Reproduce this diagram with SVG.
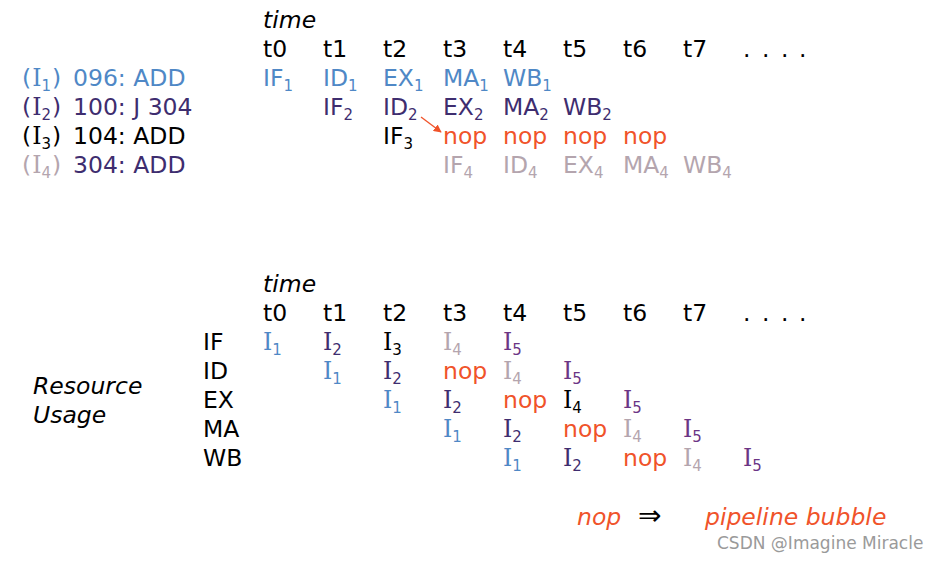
<svg xmlns="http://www.w3.org/2000/svg" width="940" height="563" viewBox="0 0 940 563">
<defs>
<style>
text{font-family:"DejaVu Sans","Liberation Sans",sans-serif;font-size:23.5px;}
.i{font-style:italic;}
.s{font-size:15px;}
.ser{font-family:"DejaVu Serif","Liberation Serif",serif;}
.k{fill:#000;}
.b{fill:#4f88c6;}
.p{fill:#3e2d6f;}
.g{fill:#b4a5ae;}
.n{fill:#f0532a;}
.v{fill:#6b3585;}
.w{fill:#9a9a9a;font-size:17px;}
</style>
<marker id="ah" viewBox="0 0 10 10" refX="9" refY="5" markerWidth="8" markerHeight="8" orient="auto" markerUnits="userSpaceOnUse">
<path d="M0,0 L10,5 L0,10 z" fill="#f0532a"/>
</marker>
</defs>
<rect width="940" height="563" fill="#fff"/>

<g id="top-header">
<text class="i k" x="263" y="28">time</text>
<text class="k" x="263" y="57">t0</text>
<text class="k" x="323" y="57">t1</text>
<text class="k" x="383" y="57">t2</text>
<text class="k" x="443" y="57">t3</text>
<text class="k" x="503" y="57">t4</text>
<text class="k" x="563" y="57">t5</text>
<text class="k" x="623" y="57">t6</text>
<text class="k" x="683" y="57">t7</text>
<text class="k"><tspan x="743" y="57">.</tspan><tspan x="762" y="57">.</tspan><tspan x="781" y="57">.</tspan><tspan x="799" y="57">.</tspan></text>
</g>

<g id="instr-labels">
<text class="b" x="22" y="86">(<tspan class="ser" dx="1">I</tspan><tspan class="s" dy="5">1</tspan><tspan dy="-5" dx="1">) </tspan><tspan x="73">096: ADD</tspan></text>
<text class="p" x="22" y="115">(<tspan class="ser" dx="1">I</tspan><tspan class="s" dy="5">2</tspan><tspan dy="-5" dx="1">) </tspan><tspan x="73">100: J 304</tspan></text>
<text class="k" x="22" y="144">(<tspan class="ser" dx="1">I</tspan><tspan class="s" dy="5">3</tspan><tspan dy="-5" dx="1">) </tspan><tspan x="73">104: ADD</tspan></text>
<text class="g" x="22" y="173">(<tspan class="ser" dx="1">I</tspan><tspan class="s" dy="5">4</tspan><tspan dy="-5" dx="1">)</tspan><tspan class="p" x="73">304: ADD</tspan></text>
</g>

<g id="row-i1">
<text class="b" x="263" y="86">IF<tspan class="s" dy="5">1</tspan></text>
<text class="b" x="323" y="86">ID<tspan class="s" dy="5">1</tspan></text>
<text class="b" x="383" y="86">EX<tspan class="s" dy="5">1</tspan></text>
<text class="b" x="443" y="86">MA<tspan class="s" dy="5">1</tspan></text>
<text class="b" x="503" y="86">WB<tspan class="s" dy="5">1</tspan></text>
</g>
<g id="row-i2">
<text class="p" x="323" y="115">IF<tspan class="s" dy="5">2</tspan></text>
<text class="p" x="383" y="115">ID<tspan class="s" dy="5">2</tspan></text>
<text class="p" x="443" y="115">EX<tspan class="s" dy="5">2</tspan></text>
<text class="p" x="503" y="115">MA<tspan class="s" dy="5">2</tspan></text>
<text class="p" x="563" y="115">WB<tspan class="s" dy="5">2</tspan></text>
</g>
<g id="row-i3">
<text class="k" x="383" y="144">IF<tspan class="s" dy="5">3</tspan></text>
<text class="n" x="443" y="144">nop</text>
<text class="n" x="503" y="144">nop</text>
<text class="n" x="563" y="144">nop</text>
<text class="n" x="623" y="144">nop</text>
</g>
<g id="row-i4">
<text class="g" x="443" y="173">IF<tspan class="s" dy="5">4</tspan></text>
<text class="g" x="503" y="173">ID<tspan class="s" dy="5">4</tspan></text>
<text class="g" x="563" y="173">EX<tspan class="s" dy="5">4</tspan></text>
<text class="g" x="623" y="173">MA<tspan class="s" dy="5">4</tspan></text>
<text class="g" x="683" y="173">WB<tspan class="s" dy="5">4</tspan></text>
</g>

<g id="connectors">
<line x1="421" y1="117" x2="441" y2="132" stroke="#f0532a" stroke-width="1.3" marker-end="url(#ah)"/>
</g>

<g id="bottom-header">
<text class="i k" x="263" y="292">time</text>
<text class="k" x="263" y="321">t0</text>
<text class="k" x="323" y="321">t1</text>
<text class="k" x="383" y="321">t2</text>
<text class="k" x="443" y="321">t3</text>
<text class="k" x="503" y="321">t4</text>
<text class="k" x="563" y="321">t5</text>
<text class="k" x="623" y="321">t6</text>
<text class="k" x="683" y="321">t7</text>
<text class="k"><tspan x="743" y="321">.</tspan><tspan x="762" y="321">.</tspan><tspan x="781" y="321">.</tspan><tspan x="799" y="321">.</tspan></text>
</g>

<g id="resource-label">
<text class="i k" x="33" y="394">Resource</text>
<text class="i k" x="33" y="423">Usage</text>
</g>

<g id="stage-if">
<text class="k" x="203" y="350">IF</text>
<text class="b" x="263" y="350"><tspan class="ser">I</tspan><tspan class="s" dy="5">1</tspan></text>
<text class="p" x="323" y="350"><tspan class="ser">I</tspan><tspan class="s" dy="5">2</tspan></text>
<text class="k" x="383" y="350"><tspan class="ser">I</tspan><tspan class="s" dy="5">3</tspan></text>
<text class="g" x="443" y="350"><tspan class="ser">I</tspan><tspan class="s" dy="5">4</tspan></text>
<text class="v" x="503" y="350"><tspan class="ser">I</tspan><tspan class="s" dy="5">5</tspan></text>
</g>
<g id="stage-id">
<text class="k" x="203" y="379">ID</text>
<text class="b" x="323" y="379"><tspan class="ser">I</tspan><tspan class="s" dy="5">1</tspan></text>
<text class="p" x="383" y="379"><tspan class="ser">I</tspan><tspan class="s" dy="5">2</tspan></text>
<text class="n" x="443" y="379">nop</text>
<text class="g" x="503" y="379"><tspan class="ser">I</tspan><tspan class="s" dy="5">4</tspan></text>
<text class="v" x="563" y="379"><tspan class="ser">I</tspan><tspan class="s" dy="5">5</tspan></text>
</g>
<g id="stage-ex">
<text class="k" x="203" y="408">EX</text>
<text class="b" x="383" y="408"><tspan class="ser">I</tspan><tspan class="s" dy="5">1</tspan></text>
<text class="p" x="443" y="408"><tspan class="ser">I</tspan><tspan class="s" dy="5">2</tspan></text>
<text class="n" x="503" y="408">nop</text>
<text class="k" x="563" y="408"><tspan class="ser">I</tspan><tspan class="s" dy="5">4</tspan></text>
<text class="v" x="623" y="408"><tspan class="ser">I</tspan><tspan class="s" dy="5">5</tspan></text>
</g>
<g id="stage-ma">
<text class="k" x="203" y="437">MA</text>
<text class="b" x="443" y="437"><tspan class="ser">I</tspan><tspan class="s" dy="5">1</tspan></text>
<text class="p" x="503" y="437"><tspan class="ser">I</tspan><tspan class="s" dy="5">2</tspan></text>
<text class="n" x="563" y="437">nop</text>
<text class="g" x="623" y="437"><tspan class="ser">I</tspan><tspan class="s" dy="5">4</tspan></text>
<text class="v" x="683" y="437"><tspan class="ser">I</tspan><tspan class="s" dy="5">5</tspan></text>
</g>
<g id="stage-wb">
<text class="k" x="203" y="466">WB</text>
<text class="b" x="503" y="466"><tspan class="ser">I</tspan><tspan class="s" dy="5">1</tspan></text>
<text class="p" x="563" y="466"><tspan class="ser">I</tspan><tspan class="s" dy="5">2</tspan></text>
<text class="n" x="623" y="466">nop</text>
<text class="g" x="683" y="466"><tspan class="ser">I</tspan><tspan class="s" dy="5">4</tspan></text>
<text class="v" x="743" y="466"><tspan class="ser">I</tspan><tspan class="s" dy="5">5</tspan></text>
</g>

<g id="legend">
<text class="i n" x="577" y="525">nop</text>
<text class="k" x="638" y="525" style="font-size:28px">⇒</text>
<text class="i n" x="705" y="525">pipeline bubble</text>
</g>
<text class="w" x="717" y="549">CSDN @Imagine Miracle</text>
</svg>
